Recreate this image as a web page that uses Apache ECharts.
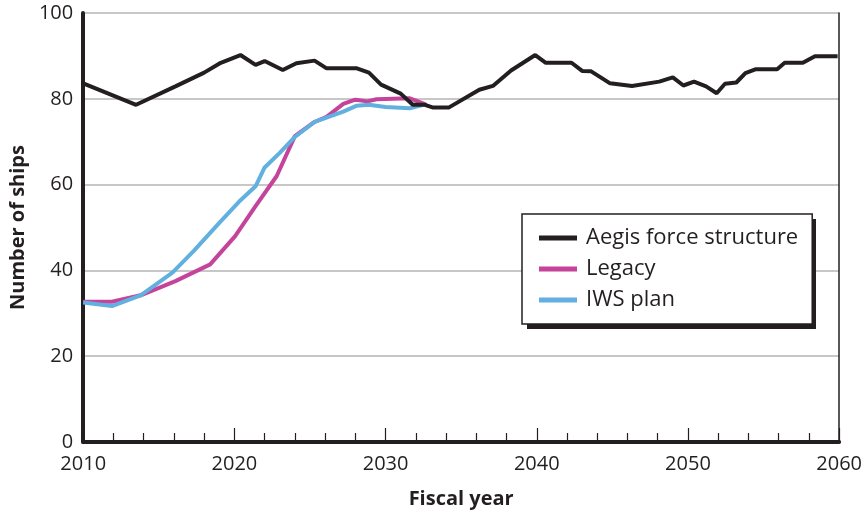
<!DOCTYPE html>
<html>
<head>
<meta charset="utf-8">
<script src="https://cdn.jsdelivr.net/npm/echarts@6/dist/echarts.min.js"></script>
<style>
html,body{margin:0;padding:0;background:#fff;}
#chart{width:865px;height:514px;}
</style>
</head>
<body>
<div id="chart"></div>
<script>
// Data (fiscal year, number of ships)
const aegisYears = [2010,2013.5,2016.1,2018,2019.1,2020.4,2021.4,2022,2023.2,2024.1,2025.3,2026.1,2028.1,2028.9,2029.7,2031,2031.8,2032.6,2033.1,2034.2,2036.2,2037.1,2038.3,2039.9,2040.6,2042.3,2043,2043.6,2044.85,2046.3,2048.1,2049,2049.7,2050.4,2051.2,2051.9,2052.45,2053.2,2053.8,2054.5,2055.9,2056.4,2057.6,2058.4,2059.9];
const aegisShips = [83.6,78.6,82.9,86.1,88.4,90.2,87.9,88.8,86.7,88.3,88.9,87.1,87.1,86.1,83.3,81.2,78.6,78.6,78,78,82.1,83,86.6,90.2,88.4,88.4,86.5,86.4,83.6,83,84,85,83.1,84,82.9,81.3,83.5,83.8,86,86.9,86.9,88.4,88.4,89.9,89.9];
const legacyYears = [2010,2011.9,2013.8,2016.1,2018.4,2020.05,2021.4,2022.8,2024,2025.3,2026.1,2027.2,2028,2028.8,2029.4,2031.6,2032.35,2032.7];
const legacyShips = [32.7,32.7,34.2,37.5,41.4,48,55,62,71.3,74.6,75.8,78.8,79.8,79.4,79.9,80.1,79.1,78.6];
const iwsYears = [2010,2011.9,2013.8,2015.9,2017.3,2019,2020.3,2021.4,2022,2023,2024,2025.3,2026,2027.2,2028.1,2028.9,2030,2031.6,2032.5];
const iwsShips = [32.5,31.7,34.2,39.5,44.5,51.1,56,59.6,64,67.4,71.1,74.6,75.5,77,78.4,78.6,78.1,77.8,78.6];
const seriesNames = ['Aegis force structure','Legacy','IWS plan'];
const xTicks = [2010,2060,10];
const yTicks = [0,100,20];

const pair = (xs, ys) => xs.map((x, i) => [x, ys[i]]);
const FONT = '"Open Sans", "Noto Sans", sans-serif';
const INK = '#231f20';

const chart = echarts.init(document.getElementById('chart'), null, {renderer:'canvas'});
chart.setOption({
  animation: false,
  backgroundColor: '#fff',
  textStyle: {fontFamily: FONT, color: INK},
  grid: {left: 82, right: 23, top: 13, bottom: 71, containLabel: false},
  graphic: [{
    type: 'rect', z: 10,
    shape: {x: 527, y: 219, width: 289, height: 110},
    style: {fill: INK}
  }],
  legend: {
    z: 20,
    data: seriesNames,
    orient: 'vertical',
    left: 522, top: 214,
    padding: [12, 14, 12, 17],
    itemGap: 7,
    itemWidth: 38, itemHeight: 5,
    icon: 'rect',
    backgroundColor: '#fff',
    borderColor: INK, borderWidth: 1.5,
    textStyle: {fontFamily: FONT, fontSize: 22, color: INK, lineHeight: 24, width: 208, overflow: 'none', padding: [0,0,0,4]}
  },
  xAxis: {
    type: 'value', min: xTicks[0], max: xTicks[1], interval: xTicks[2],
    name: 'Fiscal year', nameLocation: 'middle', nameGap: 47,
    nameTextStyle: {fontFamily: FONT, fontSize: 20, fontWeight: 'bold', color: INK},
    axisLine: {show: true, lineStyle: {color: INK, width: 4}},
    axisTick: {show: true, inside: true, length: 14, lineStyle: {color: INK, width: 1.2}},
    minorTick: {show: true, splitNumber: 5, length: 9, lineStyle: {color: INK, width: 1.2}},
    axisLabel: {fontFamily: FONT, fontSize: 20, color: INK, margin: 12, formatter: v => String(v)},
    splitLine: {show: false}
  },
  yAxis: [{
    type: 'value', min: yTicks[0], max: yTicks[1], interval: yTicks[2],
    name: 'Number of ships', nameLocation: 'middle', nameGap: 53, nameRotate: 90,
    nameTextStyle: {fontFamily: FONT, fontSize: 20, fontWeight: 'bold', color: INK},
    axisLine: {show: true, onZero: false, lineStyle: {color: INK, width: 4}},
    axisTick: {show: false},
    axisLabel: {fontFamily: FONT, fontSize: 20, color: INK, margin: 10},
    splitLine: {show: true, lineStyle: {color: '#b5b5b5', width: 1.5}}
  }, {
    type: 'value', min: yTicks[0], max: yTicks[1], interval: yTicks[2], position: 'right',
    axisLine: {show: true, onZero: false, lineStyle: {color: INK, width: 1.5}},
    axisTick: {show: false}, axisLabel: {show: false}, splitLine: {show: false}
  }],
  series: [
    {name: seriesNames[1], type: 'line', data: pair(legacyYears, legacyShips), showSymbol: false, symbol: 'none',
     lineStyle: {color: '#c5449b', width: 4}, itemStyle: {color: '#c5449b'}, z: 2},
    {name: seriesNames[2], type: 'line', data: pair(iwsYears, iwsShips), showSymbol: false, symbol: 'none',
     lineStyle: {color: '#62b0e0', width: 4}, itemStyle: {color: '#62b0e0'}, z: 3},
    {name: seriesNames[0], type: 'line', data: pair(aegisYears, aegisShips), showSymbol: false, symbol: 'none',
     lineStyle: {color: INK, width: 4}, itemStyle: {color: INK}, z: 4}
  ]
});
</script>
</body>
</html>
